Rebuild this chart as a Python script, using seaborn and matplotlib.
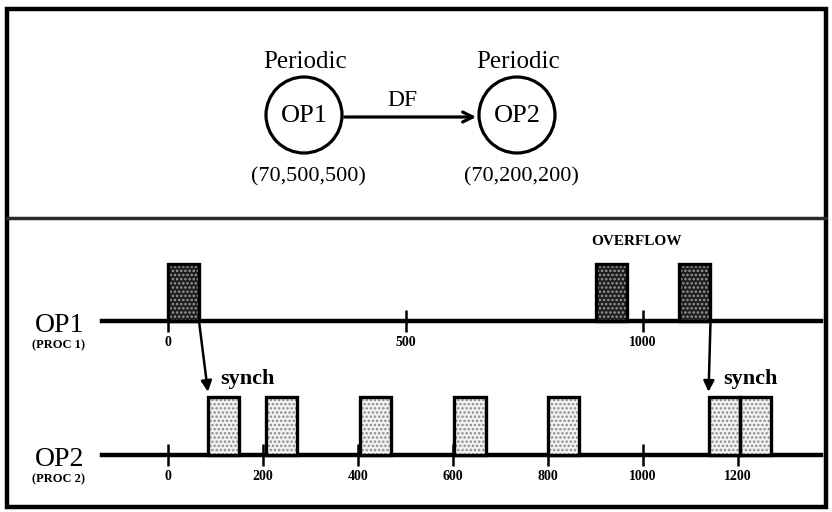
import numpy as np
import pandas as pd
import seaborn as sns
import matplotlib.pyplot as plt
from matplotlib.patches import Circle, Rectangle, ConnectionPatch, FancyArrowPatch

sns.set_style("white")
plt.rcParams['font.family'] = ['Liberation Serif', 'DejaVu Serif']
plt.rcParams['hatch.linewidth'] = 1.2
plt.rcParams['text.color'] = 'black'
plt.rcParams['xtick.color'] = 'black'
plt.rcParams['axes.edgecolor'] = 'black'

# --- data ---
op1_starts = [0, 901, 1076]
op2_starts = [84, 206, 404, 603, 800, 1138, 1204]
bar_width = 66
op1_ticks = [0, 500, 1000]
op2_ticks = [0, 200, 400, 600, 800, 1000, 1200]
row_names = ["OP1", "OP2"]
row_procs = ["(PROC 1)", "(PROC 2)"]
node_names = ["OP1", "OP2"]
node_kinds = ["Periodic", "Periodic"]
node_params = ["(70,500,500)", "(70,200,200)"]
edge_label = "DF"
overflow_label = "OVERFLOW"
synch_label = "synch"
synch_pairs = [(0, 0), (2, 5)]  # OP1 bar index -> OP2 bar index

W, H = 832, 512
X_LEFT_PX, X_RIGHT_PX = 102, 821
ZERO_PX, PX_PER_UNIT = 168, 0.475
XMIN = (X_LEFT_PX - ZERO_PX) / PX_PER_UNIT
XMAX = (X_RIGHT_PX - ZERO_PX) / PX_PER_UNIT


def px_box(left, top, right, bottom):
    return [left / W, 1 - bottom / H, (right - left) / W, (bottom - top) / H]


def draw_timeline(ax, starts, ticks, face, dots, ylim):
    ax.set_xlim(XMIN, XMAX)
    ax.set_ylim(*ylim)
    df = pd.DataFrame({"start": starts, "dur": bar_width})
    ax.bar(df["start"], 1, width=df["dur"], align="edge", color=face,
           edgecolor=dots, hatch="....", linewidth=0, zorder=3)
    ax.bar(df["start"], 1, width=df["dur"], align="edge", fill=False,
           edgecolor="black", linewidth=2.4, zorder=4)
    sns.despine(ax=ax, left=True)
    ax.spines["bottom"].set_position(("data", 0))
    ax.spines["bottom"].set_linewidth(3.2)
    ax.spines["bottom"].set_color("black")
    ax.spines["bottom"].set_zorder(2)
    ax.set_yticks([])
    ax.set_xticks(ticks)
    ax.set_xticklabels([str(t) for t in ticks], fontweight="bold", fontsize=10)
    ax.tick_params(axis="x", bottom=True, direction="inout", length=16, width=1.8,
                   pad=3, color="black", labelcolor="black")
    ax.patch.set_alpha(0)


fig = plt.figure(figsize=(W / 100, H / 100), dpi=100)

# overlay for frame and the graph at the top
ax0 = fig.add_axes([0, 0, 1, 1])
ax0.set_xlim(0, W)
ax0.set_ylim(H, 0)
ax0.axis("off")
ax0.add_patch(Rectangle((7, 9), 819, 498, fill=False, lw=3.2, ec="black"))
ax0.plot([7, 826], [218, 218], lw=2.5, color="#2a2a2a")

node_x = [304, 517]
node_y, node_r = 115, 38
for x, name, kind, par in zip(node_x, node_names, node_kinds, node_params):
    ax0.add_patch(Circle((x, node_y), node_r, fill=False, lw=2.3, ec="black"))
    ax0.text(x, node_y + 1, name, ha="center", va="center", fontsize=19)
    ax0.text(x + 1, 62, kind, ha="center", va="center", fontsize=18)
    ax0.text(x + 4, 177, par, ha="center", va="center", fontsize=16)
ax0.add_patch(FancyArrowPatch((node_x[0] + node_r, node_y + 2), (node_x[1] - node_r, node_y + 2),
                              arrowstyle="->", mutation_scale=18, lw=2.3, color="black"))
ax0.text((node_x[0] + node_x[1]) / 2 - 8, 100, edge_label, ha="center", va="center", fontsize=17)

# timelines
ax1 = fig.add_axes(px_box(X_LEFT_PX, 230, X_RIGHT_PX, 360))
draw_timeline(ax1, op1_starts, op1_ticks, "#1e1e1e", "#9a9a9a",
              (-(360 - 321) / 57, (321 - 230) / 57))
ax2 = fig.add_axes(px_box(X_LEFT_PX, 370, X_RIGHT_PX, 495))
draw_timeline(ax2, op2_starts, op2_ticks, "#f3f3f3", "#8a8a8a",
              (-(495 - 455) / 58, (455 - 370) / 58))

for name, proc, y_base in zip(row_names, row_procs, [332, 466]):
    ax0.text(60, y_base, name, ha="center", va="baseline", fontsize=20)
    ax0.text(59, y_base + 16, proc, ha="center", va="baseline", fontsize=9, fontweight="bold")

ax0.text(637, 245, overflow_label, ha="center", va="baseline", fontsize=11, fontweight="bold")

for (i1, i2), tx in zip(synch_pairs, [220, 723]):
    arrow = ConnectionPatch(xyA=(op1_starts[i1] + bar_width, -0.05), coordsA=ax1.transData,
                            xyB=(op2_starts[i2], 1.09), coordsB=ax2.transData,
                            arrowstyle="-|>", mutation_scale=16, lw=1.8, color="black")
    fig.add_artist(arrow)
    ax0.text(tx, 384, synch_label, ha="left", va="baseline", fontsize=16, fontweight="bold")

fig.savefig("out.png", dpi=100, facecolor="white")
